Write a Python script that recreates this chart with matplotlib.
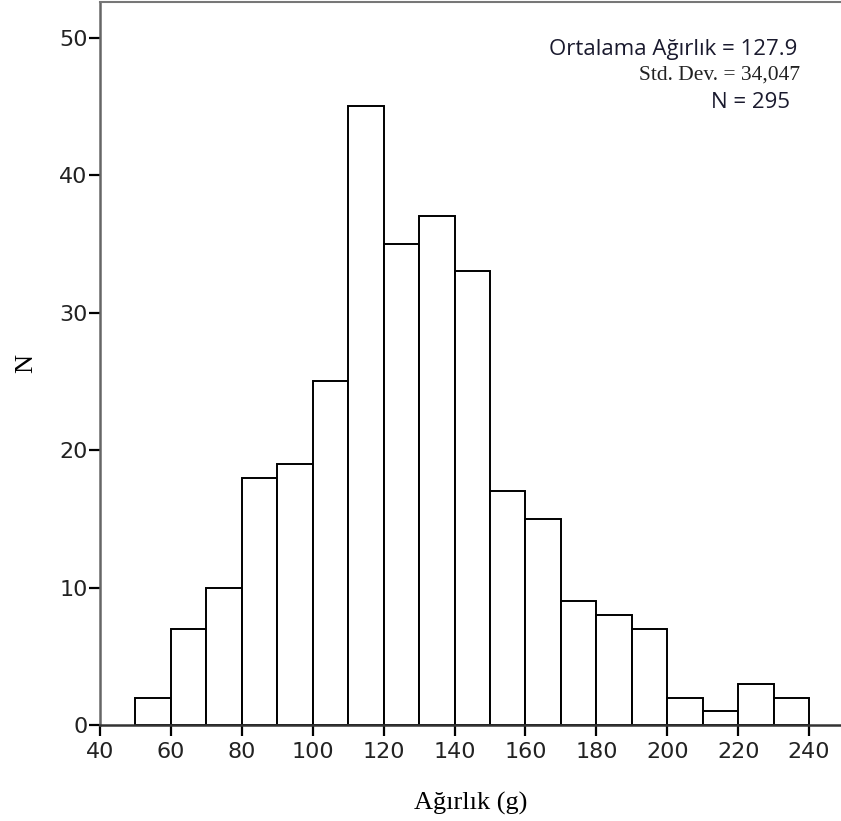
import matplotlib
matplotlib.use("Agg")
import matplotlib.pyplot as plt

# histogram counts, 10 g bins from 50 to 240
bin_edges = list(range(50, 250, 10))
counts = [2, 7, 10, 18, 19, 25, 45, 35, 37, 33, 17, 15, 9, 8, 7, 2, 1, 3, 2]

x_ticks = [40, 60, 80, 100, 120, 140, 160, 180, 200, 220, 240]
y_ticks = [0, 10, 20, 30, 40, 50]

mean_txt = "Ortalama Ağırlık = 127.9"
std_txt = "Std. Dev. = 34,047"
n_txt = "N = 295"

fig = plt.figure(figsize=(8.41, 8.21), dpi=100)
ax = fig.add_axes([100 / 841, 96 / 821, 741 / 841, 723 / 821])

ax.bar(bin_edges[:-1], counts, width=10, align="edge",
       facecolor="white", edgecolor="black", linewidth=1.4, zorder=2)

ax.set_xlim(40, 249)
ax.set_ylim(0, 52.6)
ax.set_xticks(x_ticks)
ax.set_yticks(y_ticks)

tick_font = {"family": "DejaVu Sans", "size": 16}
ax.set_xticklabels([str(v) for v in x_ticks], **tick_font, color="#222222")
ax.set_yticklabels([str(v) for v in y_ticks], **tick_font, color="#222222")
ax.tick_params(axis="x", direction="out", length=8, width=1.6, pad=4)
ax.tick_params(axis="y", direction="out", length=8, width=1.6, pad=1)

ax.spines["left"].set_color("#666666")
ax.spines["left"].set_linewidth(1.8)
ax.spines["top"].set_color("#777777")
ax.spines["top"].set_linewidth(1.5)
ax.spines["bottom"].set_color("#333333")
ax.spines["bottom"].set_linewidth(1.8)
ax.spines["right"].set_visible(False)

ax.set_xlabel("Ağırlık (g)", family="Liberation Serif", fontsize=19, labelpad=22)
ax.set_ylabel("N", family="Liberation Serif", fontsize=19, labelpad=16)

ax.text(0.941, 0.934, mean_txt, transform=ax.transAxes, ha="right", va="center",
        family="Open Sans", fontsize=16, color="#1a1a2e")
ax.text(0.945, 0.899, std_txt, transform=ax.transAxes, ha="right", va="center",
        family="Liberation Serif", fontsize=15.5, color="#222222")
ax.text(0.931, 0.861, n_txt, transform=ax.transAxes, ha="right", va="center",
        family="Open Sans", fontsize=16, color="#1a1a2e")

fig.savefig("out.png", dpi=100)
